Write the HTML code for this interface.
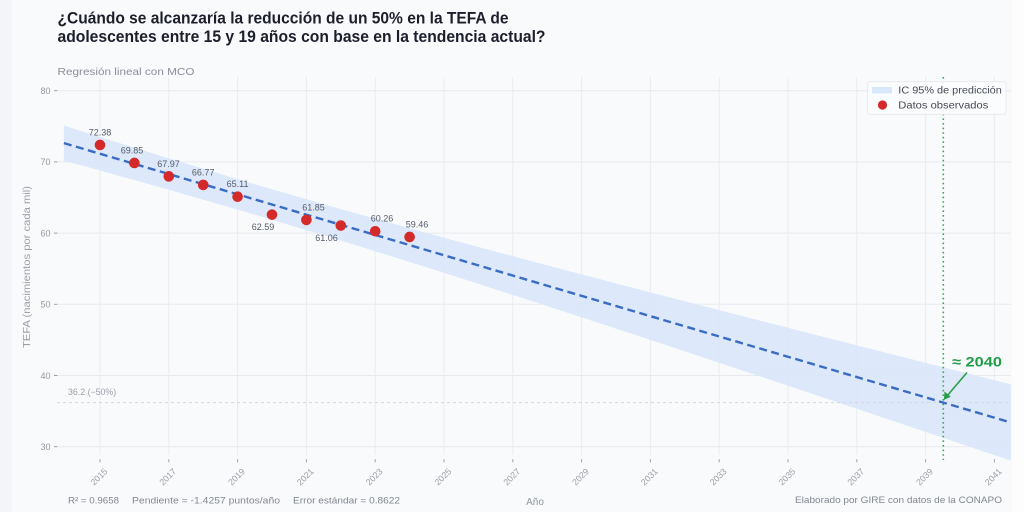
<!DOCTYPE html>
<html><head><meta charset="utf-8">
<style>
html,body{margin:0;padding:0;width:1024px;height:512px;overflow:hidden;background:#f9fafc;}
svg{display:block;font-family:"Liberation Sans",sans-serif;}
</style></head>
<body>
<svg width="1024" height="512" viewBox="0 0 1024 512" xmlns="http://www.w3.org/2000/svg">
  <rect x="0" y="0" width="1024" height="512" fill="#f9fafc"/>
  <rect x="0" y="0" width="12" height="512" fill="#f4f5f8"/>
  <rect x="1012" y="0" width="12" height="512" fill="#fdfdfe"/>

  <!-- Title -->
  <text x="57.5" y="23.5" font-size="16.5" font-weight="bold" fill="#1c1f2b" textLength="451" lengthAdjust="spacingAndGlyphs">¿Cuándo se alcanzaría la reducción de un 50% en la TEFA de</text>
  <text x="57.5" y="42" font-size="16.5" font-weight="bold" fill="#1c1f2b" textLength="488" lengthAdjust="spacingAndGlyphs">adolescentes entre 15 y 19 años con base en la tendencia actual?</text>
  <text x="57.5" y="75" font-size="10.5" fill="#8a8f99" textLength="137" lengthAdjust="spacingAndGlyphs">Regresión lineal con MCO</text>

  <!-- gridlines horizontal -->
  <g stroke="#e7eaef" stroke-width="1">
    <line x1="58" y1="90.7" x2="1011" y2="90.7"/>
    <line x1="58" y1="161.9" x2="1011" y2="161.9"/>
    <line x1="58" y1="233.1" x2="1011" y2="233.1"/>
    <line x1="58" y1="304.3" x2="1011" y2="304.3"/>
    <line x1="58" y1="375.5" x2="1011" y2="375.5"/>
    <line x1="58" y1="446.7" x2="1011" y2="446.7"/>
  </g>
  <!-- gridlines vertical -->
  <g stroke="#e9ecf0" stroke-width="1">
    <line x1="100" y1="77" x2="100" y2="455"/>
    <line x1="168.8" y1="77" x2="168.8" y2="455"/>
    <line x1="237.6" y1="77" x2="237.6" y2="455"/>
    <line x1="306.4" y1="77" x2="306.4" y2="455"/>
    <line x1="375.2" y1="77" x2="375.2" y2="455"/>
    <line x1="444" y1="77" x2="444" y2="455"/>
    <line x1="512.8" y1="77" x2="512.8" y2="455"/>
    <line x1="581.6" y1="77" x2="581.6" y2="455"/>
    <line x1="650.4" y1="77" x2="650.4" y2="455"/>
    <line x1="719.2" y1="77" x2="719.2" y2="455"/>
    <line x1="788" y1="77" x2="788" y2="455"/>
    <line x1="856.8" y1="77" x2="856.8" y2="455"/>
    <line x1="925.6" y1="77" x2="925.6" y2="455"/>
    <line x1="994.4" y1="77" x2="994.4" y2="455"/>
  </g>

  <!-- y ticks -->
  <g stroke="#9aa0a8" stroke-width="1">
    <line x1="54" y1="90.7" x2="57.5" y2="90.7"/>
    <line x1="54" y1="161.9" x2="57.5" y2="161.9"/>
    <line x1="54" y1="233.1" x2="57.5" y2="233.1"/>
    <line x1="54" y1="304.3" x2="57.5" y2="304.3"/>
    <line x1="54" y1="375.5" x2="57.5" y2="375.5"/>
    <line x1="54" y1="446.7" x2="57.5" y2="446.7"/>
  </g>
  <g font-size="9" fill="#9298a1" text-anchor="end">
    <text x="50.5" y="94">80</text>
    <text x="50.5" y="165.2">70</text>
    <text x="50.5" y="236.4">60</text>
    <text x="50.5" y="307.6">50</text>
    <text x="50.5" y="378.8">40</text>
    <text x="50.5" y="450">30</text>
  </g>
  <text transform="translate(30,267) rotate(-90)" font-size="10" fill="#9ba0a9" text-anchor="middle" textLength="162" lengthAdjust="spacingAndGlyphs">TEFA (nacimientos por cada mil)</text>

  <!-- x ticks -->
  <g stroke="#a3a9b1" stroke-width="1">
    <line x1="100" y1="459" x2="100" y2="462.5"/>
    <line x1="168.8" y1="459" x2="168.8" y2="462.5"/>
    <line x1="237.6" y1="459" x2="237.6" y2="462.5"/>
    <line x1="306.4" y1="459" x2="306.4" y2="462.5"/>
    <line x1="375.2" y1="459" x2="375.2" y2="462.5"/>
    <line x1="444" y1="459" x2="444" y2="462.5"/>
    <line x1="512.8" y1="459" x2="512.8" y2="462.5"/>
    <line x1="581.6" y1="459" x2="581.6" y2="462.5"/>
    <line x1="650.4" y1="459" x2="650.4" y2="462.5"/>
    <line x1="719.2" y1="459" x2="719.2" y2="462.5"/>
    <line x1="788" y1="459" x2="788" y2="462.5"/>
    <line x1="856.8" y1="459" x2="856.8" y2="462.5"/>
    <line x1="925.6" y1="459" x2="925.6" y2="462.5"/>
    <line x1="994.4" y1="459" x2="994.4" y2="462.5"/>
  </g>
  <g font-size="8.8" fill="#9aa0a8" text-anchor="end">
    <text transform="translate(108,472) rotate(-45)">2015</text>
    <text transform="translate(176.8,472) rotate(-45)">2017</text>
    <text transform="translate(245.6,472) rotate(-45)">2019</text>
    <text transform="translate(314.4,472) rotate(-45)">2021</text>
    <text transform="translate(383.2,472) rotate(-45)">2023</text>
    <text transform="translate(452,472) rotate(-45)">2025</text>
    <text transform="translate(520.8,472) rotate(-45)">2027</text>
    <text transform="translate(589.6,472) rotate(-45)">2029</text>
    <text transform="translate(658.4,472) rotate(-45)">2031</text>
    <text transform="translate(727.2,472) rotate(-45)">2033</text>
    <text transform="translate(796,472) rotate(-45)">2035</text>
    <text transform="translate(864.8,472) rotate(-45)">2037</text>
    <text transform="translate(933.6,472) rotate(-45)">2039</text>
    <text transform="translate(1002.4,472) rotate(-45)">2041</text>
  </g>
  <text x="535" y="505" font-size="10" fill="#8f959e" text-anchor="middle">Año</text>

  <!-- prediction band -->
  <polygon fill="#d9e7fa" fill-opacity="0.9" points="63.88,125.55 100,136.98 168.8,158.38 254.8,184.27 340.8,209.13 444,237.76 547.2,265.4 650.4,292.4 753.6,319 856.8,345.36 960,371.55 1010.9,384.42 1010.9,460.66 960,443.49 856.8,408.77 753.6,374.23 650.4,339.93 547.2,306.02 444,272.76 340.8,240.48 254.8,214.59 168.8,189.72 100,170.52 63.88,160.63"/>

  <!-- 36.2 reference line -->
  <line x1="57" y1="402.6" x2="1011" y2="402.6" stroke="#d3d7dd" stroke-width="1" stroke-dasharray="3,3"/>
  <text x="68" y="395" font-size="8.8" fill="#9aa0a8">36.2 (−50%)</text>

  <!-- regression line -->
  <line x1="63.88" y1="143.09" x2="1010.9" y2="422.54" stroke="#3a6cc3" stroke-width="2.4" stroke-dasharray="8,4.5"/>

  <!-- green dotted vertical -->
  <line x1="943.3" y1="77" x2="943.3" y2="460" stroke="#34a853" stroke-width="1.6" stroke-dasharray="1.6,3"/>

  <!-- data points -->
  <g fill="#d42a2a">
    <circle cx="100" cy="144.95" r="5.3"/>
    <circle cx="134.4" cy="162.97" r="5.3"/>
    <circle cx="168.8" cy="176.35" r="5.3"/>
    <circle cx="203.2" cy="184.9" r="5.3"/>
    <circle cx="237.6" cy="196.72" r="5.3"/>
    <circle cx="272" cy="214.66" r="5.3"/>
    <circle cx="306.4" cy="219.93" r="5.3"/>
    <circle cx="340.8" cy="225.55" r="5.3"/>
    <circle cx="375.2" cy="231.25" r="5.3"/>
    <circle cx="409.6" cy="236.94" r="5.3"/>
  </g>
  <g font-size="9" fill="#555b66" text-anchor="middle">
    <text x="100" y="135.5">72.38</text>
    <text x="132" y="153.5">69.85</text>
    <text x="168.5" y="166.8">67.97</text>
    <text x="203.2" y="175.4">66.77</text>
    <text x="237.6" y="187.2">65.11</text>
    <text x="263" y="230">62.59</text>
    <text x="313.5" y="210.4">61.85</text>
    <text x="326.5" y="241">61.06</text>
    <text x="382" y="221.7">60.26</text>
    <text x="417" y="227.4">59.46</text>
  </g>

  <!-- annotation -->
  <text x="952" y="366.5" font-size="14" font-weight="bold" fill="#1f9e45" textLength="50" lengthAdjust="spacingAndGlyphs">≈ 2040</text>
  <line x1="967" y1="372.5" x2="947" y2="396" stroke="#2a9d4a" stroke-width="1.6"/>
  <polygon points="943.8,400 944.5,391.5 950.8,396.8" fill="#2a9d4a"/>

  <!-- legend -->
  <rect x="867.7" y="81.7" width="138.3" height="32.6" rx="2" fill="#fbfcfd" fill-opacity="0.92" stroke="#e4e7ec" stroke-width="0.8"/>
  <rect x="872" y="87" width="20" height="6.5" fill="#d9e7fa"/>
  <circle cx="882.5" cy="105" r="4.6" fill="#d42a2a"/>
  <text x="898.3" y="93.6" font-size="10" fill="#454a55" textLength="103.5" lengthAdjust="spacingAndGlyphs">IC 95% de predicción</text>
  <text x="898.3" y="108.6" font-size="10" fill="#454a55" textLength="90" lengthAdjust="spacingAndGlyphs">Datos observados</text>

  <!-- footer -->
  <g font-size="9.5" fill="#80868f">
    <text x="68" y="503.5" textLength="51" lengthAdjust="spacingAndGlyphs">R² = 0.9658</text>
    <text x="132" y="503.5" textLength="148" lengthAdjust="spacingAndGlyphs">Pendiente = -1.4257 puntos/año</text>
    <text x="293" y="503.5" textLength="107" lengthAdjust="spacingAndGlyphs">Error estándar = 0.8622</text>
    <text x="795" y="503" textLength="207" lengthAdjust="spacingAndGlyphs">Elaborado por GIRE con datos de la CONAPO</text>
  </g>
</svg>
</body></html>
